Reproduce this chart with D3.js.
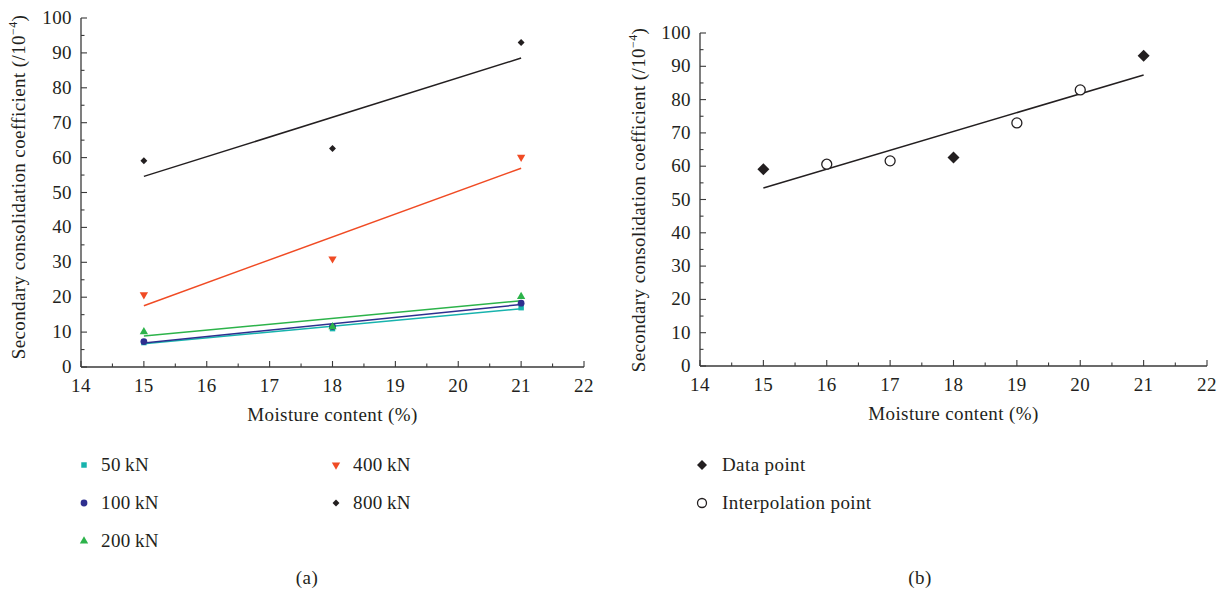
<!DOCTYPE html>
<html>
<head>
<meta charset="utf-8">
<script src="https://cdn.jsdelivr.net/npm/d3@7"></script>
<style>
  body { margin: 0; background: #fff; }
  svg text { font-family: "Liberation Serif", "DejaVu Serif", serif; fill: #231f20; letter-spacing: 0.4px; }
</style>
</head>
<body>
<div id="chart"></div>
<script>
// moisture content (%)
const moisture = [15, 18, 21];

// panel (a): coefficient per load
const loads = ["50kN", "100kN", "200kN", "400kN", "800kN"];
const values50 = [7.0, 11.0, 17.0];
const values100 = [7.3, 11.6, 18.3];
const values200 = [10.1, 11.5, 20.2];
const values400 = [20.7, 31.0, 60.1];
const values800 = [59.1, 62.6, 93.0];

// panel (b)
const dataX = [15, 18, 21];
const dataY = [59.1, 62.6, 93.2];
const interpX = [16, 17, 19, 20];
const interpY = [60.6, 61.6, 73.0, 82.9];

const xTicks = [14, 15, 16, 17, 18, 19, 20, 21, 22];
const yTicks = [0, 10, 20, 30, 40, 50, 60, 70, 80, 90, 100];

const W = 1229, H = 597;
const FS = 19;
const svg = d3.select("#chart").append("svg").attr("width", W).attr("height", H);

const seriesA = [
    { name: loads[0], vals: values50, color: "#17b3ad", shape: d3.symbolSquare, size: 30 },
    { name: loads[1], vals: values100, color: "#2e2f8f", shape: d3.symbolCircle, size: 36 },
    { name: loads[2], vals: values200, color: "#2cb34a", shape: d3.symbolTriangle, size: 30 },
    { name: loads[3], vals: values400, color: "#f04b24", shape: d3.symbolTriangle, size: 30, rot: 180 },
    { name: loads[4], vals: values800, color: "#231f20", shape: d3.symbolSquare, size: 24, rot: 45 }
];

// least squares line
function fit(xs, ys) {
    const mx = d3.mean(xs), my = d3.mean(ys);
    const b = d3.sum(xs, (x, i) => (x - mx) * (ys[i] - my)) / d3.sum(xs, x => (x - mx) * (x - mx));
    return x => my + b * (x - mx);
}

function drawAxes(g, x, y, opts) {
    const ax = "#3a3a3a";
    const [x0, x1] = x.range();
    const [y0, y1] = y.range();
    g.append("line").attr("x1", x0).attr("x2", x1).attr("y1", y0).attr("y2", y0)
        .attr("stroke", ax).attr("stroke-width", 1.3);
    g.append("line").attr("x1", x0).attr("x2", x0).attr("y1", y0).attr("y2", y1)
        .attr("stroke", ax).attr("stroke-width", 1.3);

    // x ticks (inside)
    d3.range(14, 22.01, 0.5).forEach(v => {
        const major = Number.isInteger(v);
        g.append("line").attr("x1", x(v)).attr("x2", x(v))
            .attr("y1", y0).attr("y2", y0 - (major ? 6 : 3.5))
            .attr("stroke", ax).attr("stroke-width", 1.1);
    });
    xTicks.forEach(v => {
        g.append("text").attr("x", x(v)).attr("y", y0 + 25)
            .attr("text-anchor", "middle").attr("font-size", FS).text(v);
    });
    // y ticks (inside)
    d3.range(0, 101, 5).forEach(v => {
        const major = v % 10 === 0;
        g.append("line").attr("x1", x0).attr("x2", x0 + (major ? 6 : 3.5))
            .attr("y1", y(v)).attr("y2", y(v))
            .attr("stroke", ax).attr("stroke-width", 1.1);
    });
    yTicks.forEach(v => {
        g.append("text").attr("x", x0 - 9).attr("y", y(v) + 6)
            .attr("text-anchor", "end").attr("font-size", FS).text(v);
    });

    g.append("text").attr("x", (x0 + x1) / 2).attr("y", y0 + 54)
        .attr("text-anchor", "middle").attr("font-size", FS).text("Moisture content (%)");

    const yt = g.append("text")
        .attr("transform", `translate(${opts.titleX},${opts.titleY}) rotate(-90)`)
        .attr("text-anchor", "middle").attr("font-size", FS);
    yt.append("tspan").text("Secondary consolidation coefficient (/10");
    yt.append("tspan").attr("font-size", 12).attr("dy", -8).text("\u22124");
    yt.append("tspan").attr("dy", 8).text(")");
}

// ---------- panel (a) ----------
const xa = d3.scaleLinear().domain([14, 22]).range([81, 584]);
const ya = d3.scaleLinear().domain([0, 100]).range([367, 18]);
const ga = svg.append("g");
drawAxes(ga, xa, ya, { titleX: 25, titleY: 187 });

const line = d3.line();
seriesA.forEach(s => {
    const f = fit(moisture, s.vals);
    ga.append("path")
        .attr("d", line([[xa(15), ya(f(15))], [xa(21), ya(f(21))]]))
        .attr("stroke", s.color).attr("stroke-width", 1.5).attr("fill", "none");
});
seriesA.forEach(s => {
    const sym = d3.symbol().type(s.shape).size(s.size);
    moisture.forEach((m, i) => {
        ga.append("path").attr("d", sym())
            .attr("transform", `translate(${xa(m)},${ya(s.vals[i])}) rotate(${s.rot || 0})`)
            .attr("fill", s.color);
    });
});

// legend (a)
seriesA.forEach((s, i) => {
    const col = i < 3 ? 0 : 1;
    const row = i < 3 ? i : i - 3;
    const lx = col === 0 ? 84 : 336;
    const ly = 465 + row * 38;
    const sym = d3.symbol().type(s.shape).size(s.size);
    ga.append("path").attr("d", sym())
        .attr("transform", `translate(${lx},${ly}) rotate(${s.rot || 0})`)
        .attr("fill", s.color);
    ga.append("text").attr("x", lx + 17).attr("y", ly + 6)
        .attr("font-size", FS).text(s.name.replace("kN", "\u2009kN"));
});
ga.append("text").attr("x", 307).attr("y", 584).attr("text-anchor", "middle")
    .attr("font-size", FS).text("(a)");

// ---------- panel (b) ----------
const xb = d3.scaleLinear().domain([14, 22]).range([700, 1207]);
const yb = d3.scaleLinear().domain([0, 100]).range([366, 33]);
const gb = svg.append("g");
drawAxes(gb, xb, yb, { titleX: 645, titleY: 200 });

const allX = dataX.concat(interpX), allY = dataY.concat(interpY);
const fb = fit(allX, allY);
gb.append("path")
    .attr("d", line([[xb(15), yb(fb(15))], [xb(21), yb(fb(21))]]))
    .attr("stroke", "#231f20").attr("stroke-width", 1.5).attr("fill", "none");

const diamond = d3.symbol().type(d3.symbolSquare).size(72);
dataX.forEach((v, i) => {
    gb.append("path").attr("d", diamond())
        .attr("transform", `translate(${xb(v)},${yb(dataY[i])}) rotate(45)`).attr("fill", "#231f20");
});
interpX.forEach((v, i) => {
    gb.append("circle").attr("cx", xb(v)).attr("cy", yb(interpY[i])).attr("r", 5)
        .attr("fill", "#fff").attr("stroke", "#231f20").attr("stroke-width", 1.3);
});

// legend (b)
gb.append("path").attr("d", d3.symbol().type(d3.symbolSquare).size(50)())
    .attr("transform", "translate(702,465) rotate(45)").attr("fill", "#231f20");
gb.append("text").attr("x", 722).attr("y", 471).attr("font-size", FS).text("Data point");
gb.append("circle").attr("cx", 702).attr("cy", 503).attr("r", 4.5)
    .attr("fill", "#fff").attr("stroke", "#231f20").attr("stroke-width", 1.3);
gb.append("text").attr("x", 722).attr("y", 509).attr("font-size", FS).text("Interpolation point");
gb.append("text").attr("x", 920).attr("y", 584).attr("text-anchor", "middle")
    .attr("font-size", FS).text("(b)");
</script>
</body>
</html>
